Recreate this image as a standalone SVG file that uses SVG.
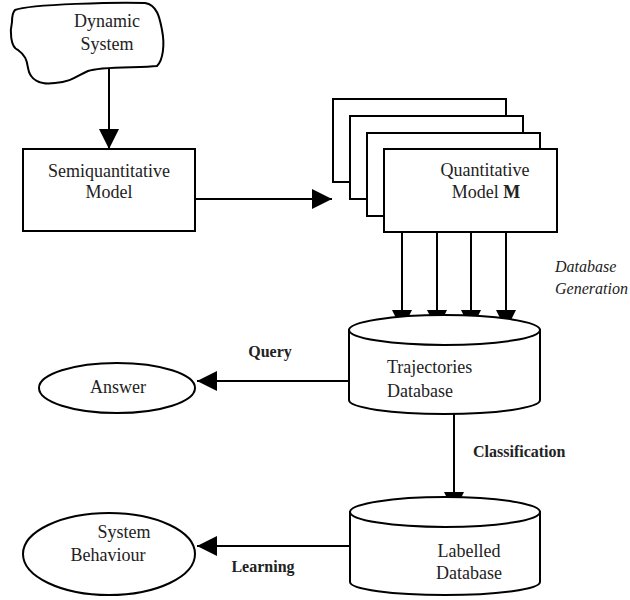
<svg xmlns="http://www.w3.org/2000/svg" width="630" height="600" viewBox="0 0 630 600">
<style>
.s{fill:#fff;stroke:#000;stroke-width:2}
.t{font-family:"Liberation Serif","Times New Roman",serif;font-size:18px;fill:#222}
.m{text-anchor:middle}
.b{font-family:"Liberation Serif","Times New Roman",serif;font-size:16px;font-weight:bold;fill:#222}
.i{font-family:"Liberation Serif","Times New Roman",serif;font-size:16px;font-style:italic;fill:#222}
.c{fill:none;stroke:#000;stroke-width:2}
</style>
<defs>
<marker id="ah" markerUnits="userSpaceOnUse" markerWidth="20" markerHeight="20" refX="20" refY="10" orient="auto">
<path d="M0,0 L20,10 L0,20 Z" fill="#000"/>
</marker>
</defs>
<rect width="630" height="600" fill="#fff"/>
<g id="connectors">
<line class="c" x1="109" y1="67" x2="109" y2="149" marker-end="url(#ah)"/>
<line class="c" x1="195" y1="199" x2="332" y2="199" marker-end="url(#ah)"/>
<line class="c" x1="402" y1="232" x2="402" y2="330" marker-end="url(#ah)"/>
<line class="c" x1="437" y1="232" x2="437" y2="330" marker-end="url(#ah)"/>
<line class="c" x1="471" y1="232" x2="471" y2="330" marker-end="url(#ah)"/>
<line class="c" x1="506" y1="232" x2="506" y2="330" marker-end="url(#ah)"/>
<line class="c" x1="349" y1="381" x2="197" y2="381" marker-end="url(#ah)"/>
<line class="c" x1="454" y1="414" x2="454" y2="512" marker-end="url(#ah)"/>
<line class="c" x1="350" y1="546" x2="197" y2="546" marker-end="url(#ah)"/>
<text class="b m" x="270" y="357">Query</text>
<text class="b" x="473" y="457">Classification</text>
<text class="b m" x="263" y="572">Learning</text>
<text class="i" x="555" y="272">Database</text>
<text class="i" x="555" y="294">Generation</text>
</g>
<g id="dynamic-system">
<path class="s" d="M15,10 C30,4 120,2 145,3 C158,5 160,20 162,30 C165,45 163,60 157,66 C140,68 100,66 88,71 C78,75 72,82 55,83 C40,85 30,80 28,68 C27,60 25,55 18,50 C10,47 10,30 12,22 C12,15 13,12 15,10 Z"/>
<text class="t m" x="107" y="27">Dynamic</text>
<text class="t m" x="107" y="50">System</text>
</g>
<g id="semiquantitative-model">
<rect class="s" x="23" y="149" width="172" height="82"/>
<text class="t m" x="109" y="177">Semiquantitative</text>
<text class="t m" x="109" y="198">Model</text>
</g>
<g id="quantitative-model">
<rect class="s" x="333" y="99" width="173" height="83"/>
<rect class="s" x="350" y="116" width="173" height="83"/>
<rect class="s" x="367" y="133" width="173" height="83"/>
<rect class="s" x="384" y="149" width="173" height="83"/>
<text class="t m" x="485" y="176">Quantitative</text>
<text class="t m" x="486" y="198">Model  <tspan font-weight="bold">M</tspan></text>
</g>
<g id="trajectories-database">
<path class="s" d="M349,330 L349,400 A95.5,14 0 0 0 540,400 L540,330 Z"/>
<ellipse class="s" cx="444.5" cy="330" rx="95.5" ry="15"/>
<text class="t" x="387" y="373">Trajectories</text>
<text class="t" x="387" y="397">Database</text>
</g>
<g id="labelled-database">
<path class="s" d="M350,512 L350,582 A95,13 0 0 0 540,582 L540,512 Z"/>
<ellipse class="s" cx="445" cy="512" rx="95" ry="15"/>
<text class="t m" x="469" y="557">Labelled</text>
<text class="t m" x="469" y="579">Database</text>
</g>
<g id="answer">
<ellipse class="s" cx="117" cy="388" rx="78" ry="25"/>
<text class="t m" x="118" y="393">Answer</text>
</g>
<g id="system-behaviour">
<ellipse class="s" cx="109" cy="554" rx="86" ry="41"/>
<text class="t m" x="124" y="538">System</text>
<text class="t m" x="108" y="561">Behaviour</text>
</g>
</svg>
